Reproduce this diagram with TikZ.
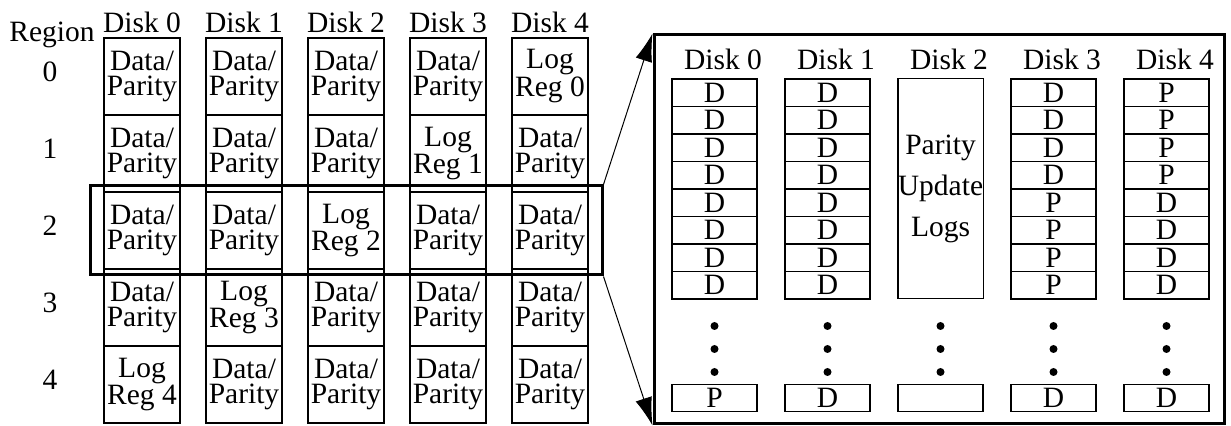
\documentclass[tikz,border=0pt]{standalone}
\usepackage{fontspec}
\setmainfont{Liberation Serif}
\usetikzlibrary{arrows.meta}

\tikzset{
  cell/.style={draw, line width=0.6pt, minimum width=38pt, minimum height=38.5pt, inner sep=0pt, align=center, font=\fontsize{14.75}{12.25}\selectfont},
  slot/.style={draw, line width=0.6pt, minimum width=42.5pt, minimum height=13.75pt, inner sep=0pt, font=\fontsize{14.75}{12}\selectfont},
  lbl/.style={anchor=base, inner sep=0pt, font=\fontsize{14.75}{12}\selectfont},
  dot/.style={circle, fill, inner sep=0pt, minimum size=4pt},
  frame/.style={draw, line width=1.5pt, inner sep=0pt},
  zoomarrow/.style={line width=0.5pt, -{Latex[length=14pt,width=8.5pt]}}
}

\begin{document}
\begin{tikzpicture}[x=0.5pt, y=-0.5pt]
\useasboundingbox (0,0) rectangle (1231,426);
\node[lbl] (region) at (52,42) {Region};
\foreach \r in {0,...,4}
  \node[lbl] (reg\r) at (50,82+77*\r) {\r};
\foreach \d in {0,...,4} {
  \node[lbl] (ldisk\d) at (142+102*\d,33) {Disk \d};
  \foreach \r in {0,...,4} {
    \pgfmathtruncatemacro\logrow{4-\d}
    \ifnum\r=\logrow
      \node[cell] (c\d\r) at (142+102*\d,76.5+77*\r) {Log\\Reg \r};
    \else
      \node[cell] (c\d\r) at (142+102*\d,76.5+77*\r) {Data/\\Parity};
    \fi
  }
}
\node[frame, minimum width=256pt, minimum height=44.5pt] (zoom) at (346,230.5) {};
\node[frame, minimum width=285pt, minimum height=194.5pt] (panel) at (939,229.5) {};
\draw[zoomarrow] (zoom.north east) -- (panel.north west);
\draw[zoomarrow] (zoom.south east) -- (panel.south west);

\foreach \d in {0,...,4} {
  \node[lbl] (rdisk\d) at (723+113*\d,70) {Disk \d};
  \foreach \y [count=\k] in {326,349,372}
    \node[dot] (dot\d\k) at (714.5+113*\d,\y) {};
}
\foreach \d/\list/\last in {0/{D,D,D,D,D,D,D,D}/P, 1/{D,D,D,D,D,D,D,D}/D, 3/{D,D,D,D,P,P,P,P}/D, 4/{P,P,P,P,D,D,D,D}/D} {
  \foreach \t [count=\i from 0] in \list
    \node[slot] (s\d\i) at (714.5+113*\d,92.75+27.5*\i) {\t};
  \node[slot] (b\d) at (714.5+113*\d,398) {\last};
}
\node[draw, line width=0.6pt, minimum width=42.5pt, minimum height=110pt, inner sep=0pt, align=center, font=\fontsize{14.75}{20.5}\selectfont] (logs) at (940.5,188.75) {Parity\\Update\\Logs};
\node[slot] (b2) at (940.5,398) {};
\end{tikzpicture}
\end{document}
